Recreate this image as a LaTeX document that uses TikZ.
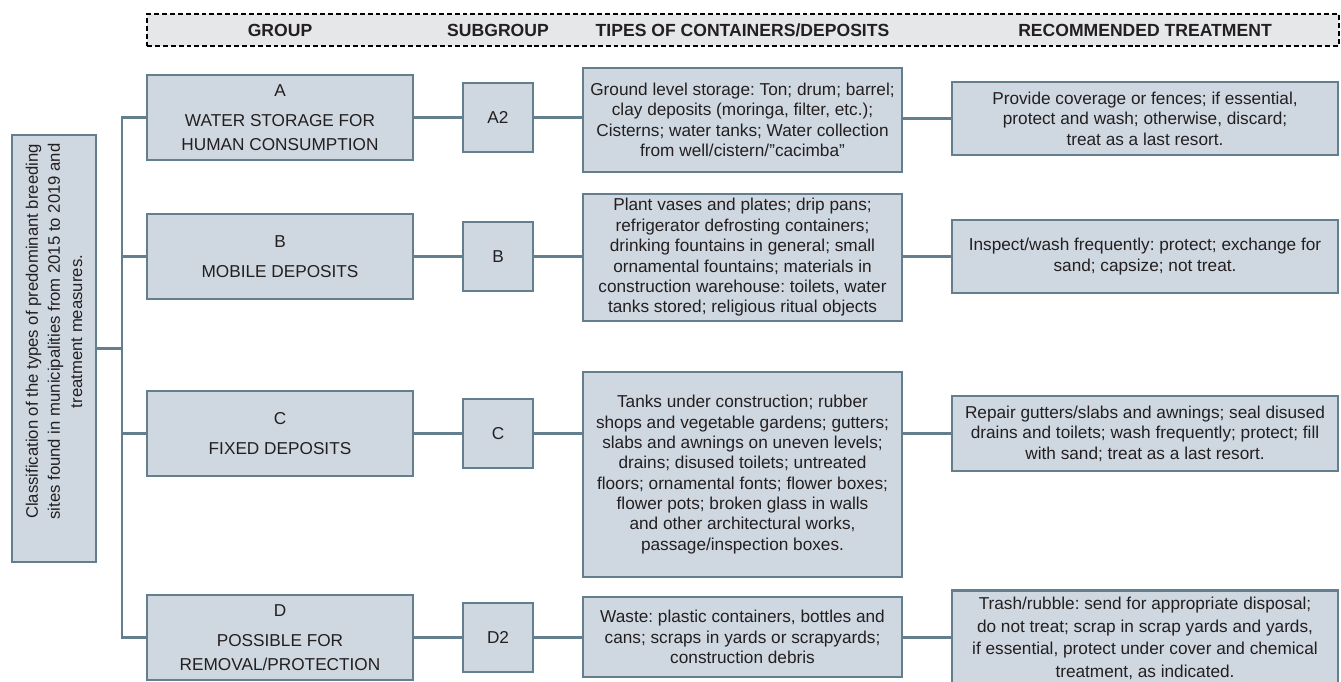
\documentclass[tikz,border=0pt]{standalone}
\usepackage{fontspec}
\setmainfont{Liberation Sans}
\setsansfont{Liberation Sans}
\usetikzlibrary{calc}
\definecolor{boxfill}{HTML}{CFD8E1}
\definecolor{boxline}{HTML}{637F8D}
\definecolor{headfill}{HTML}{E6E7E8}
\definecolor{ink}{HTML}{231F20}
\tikzset{every picture/.style={/utils/exec={\sffamily\frenchspacing}}}
\tikzset{box/.style={draw=boxline, line width=1.5pt, fill=boxfill, text=ink, align=center, inner sep=2pt, font=\fontsize{9.8}{11.6}\selectfont}}
\tikzset{groupbox/.style={box, minimum width=5.32cm, minimum height=1.70cm, font=\fontsize{9.8}{13.4}\selectfont}}
\tikzset{subbox/.style={box, minimum width=1.40cm, minimum height=1.38cm}}
\tikzset{typebox/.style={box, minimum width=6.38cm}}
\tikzset{treatbox/.style={box, minimum width=7.72cm}}
\tikzset{link/.style={draw=boxline, line width=1.3pt}}
\tikzset{headbar/.style={draw=black, fill=headfill, line width=1.1pt, dash pattern=on 2.8pt off 1.7pt}}
\tikzset{headtext/.style={text=ink, font=\bfseries\fontsize{10}{12}\selectfont}}

\begin{document}
\begin{tikzpicture}
    \useasboundingbox (0, 0) rectangle (26.82, -13.62);
    \node [headbar, minimum width=23.84cm, minimum height=0.64cm] (head) at (14.86, -0.60) {};
    \node [box, minimum width=1.68cm, minimum height=8.54cm] (root) at (1.08, -6.97) {};
    \node [rotate=90, align=center, text=ink, font=\fontsize{9.5}{12.6}\selectfont] (rootText) at ([yshift=0.34cm]root.center)
        {Classification of the types of predominant breeding\\sites found in municipalities from 2015 to 2019 and\\treatment measures.};
    \coordinate (spine) at (2.44, -6.97);
    \node [groupbox] (gA) at (5.60, -2.35) {A\\[4pt]WATER STORAGE FOR\\HUMAN CONSUMPTION};
    \node [groupbox] (gB) at (5.60, -5.13) {B\\[4pt]MOBILE DEPOSITS};
    \node [groupbox] (gC) at (5.60, -8.67) {C\\[4pt]FIXED DEPOSITS};
    \node [groupbox] (gD) at (5.60, -12.75) {D\\[4pt]POSSIBLE FOR\\REMOVAL/PROTECTION};
    \node [subbox] (sA) at (9.96, -2.35) {A2};
    \node [subbox] (sB) at (9.96, -5.13) {B};
    \node [subbox] (sC) at (9.96, -8.67) {C};
    \node [subbox] (sD) at (9.96, -12.75) {D2};
    \node [typebox, minimum height=2.08cm] (cA) at (14.85, -2.40)
        {Ground level storage: Ton; drum; barrel;\\clay deposits (moringa, filter, etc.);\\Cisterns; water tanks; Water collection\\from well/cistern/\symbol{34}cacimba\symbol{34}};
    \node [typebox, minimum height=2.54cm] (cB) at (14.85, -5.15)
        {Plant vases and plates; drip pans;\\refrigerator defrosting containers;\\drinking fountains in general; small\\ornamental fountains; materials in\\construction warehouse: toilets, water\\tanks stored; religious ritual objects};
    \node [typebox, minimum height=4.10cm] (cC) at (14.85, -9.49)
        {Tanks under construction; rubber\\shops and vegetable gardens; gutters;\\slabs and awnings on uneven levels;\\drains; disused toilets; untreated\\floors; ornamental fonts; flower boxes;\\flower pots; broken glass in walls\\and other architectural works,\\passage/inspection boxes.};
    \node [typebox, minimum height=1.60cm] (cD) at (14.85, -12.74)
        {Waste: plastic containers, bottles and\\cans; scraps in yards or scrapyards;\\construction debris};
    \node [treatbox, minimum height=1.46cm] (tA) at (22.90, -2.37)
        {Provide coverage or fences; if essential,\\protect and wash; otherwise, discard;\\treat as a last resort.};
    \node [treatbox, minimum height=1.46cm] (tB) at (22.90, -5.13)
        {Inspect/wash frequently: protect; exchange for\\sand; capsize; not treat.};
    \node [treatbox, minimum height=1.50cm] (tC) at (22.90, -8.67)
        {Repair gutters/slabs and awnings; seal disused\\drains and toilets; wash frequently; protect; fill\\with sand; treat as a last resort.};
    \node [treatbox, minimum height=1.92cm, font=\fontsize{9.8}{13}\selectfont, anchor=north] (tD) at (22.90, -11.78)
        {Trash/rubble: send for appropriate disposal;\\do not treat; scrap in scrap yards and yards,\\if essential, protect under cover and chemical\\treatment, as indicated.};
    \node [headtext] (hGroup) at (gA |- head) {GROUP};
    \node [headtext] (hSub) at (sA |- head) {SUBGROUP};
    \node [headtext] (hType) at (cA |- head) {TIPES OF CONTAINERS/DEPOSITS};
    \node [headtext] (hTreat) at (tA |- head) {RECOMMENDED TREATMENT};
    \draw [link] (root.east) -- (spine);
    \draw [link] (gA.west) -| (spine) |- (gD.west);
    \draw [link] (gB.west) -- (gB.west -| spine);
    \draw [link] (gC.west) -- (gC.west -| spine);
    \draw [link] (gA.east) -- (sA.west);
    \draw [link] (gB.east) -- (sB.west);
    \draw [link] (gC.east) -- (sC.west);
    \draw [link] (gD.east) -- (sD.west);
    \draw [link] (sA.east) -- (sA.east -| cA.west);
    \draw [link] (sB.east) -- (sB.east -| cB.west);
    \draw [link] (sC.east) -- (sC.east -| cC.west);
    \draw [link] (sD.east) -- (sD.east -| cD.west);
    \draw [link] (tA.west -| cA.east) -- (tA.west);
    \draw [link] (tB.west -| cB.east) -- (tB.west);
    \draw [link] (tC.west -| cC.east) -- (tC.west);
    \draw [link] (sD.east -| cD.east) -- (sD.east -| tD.west);
\end{tikzpicture}
\end{document}
